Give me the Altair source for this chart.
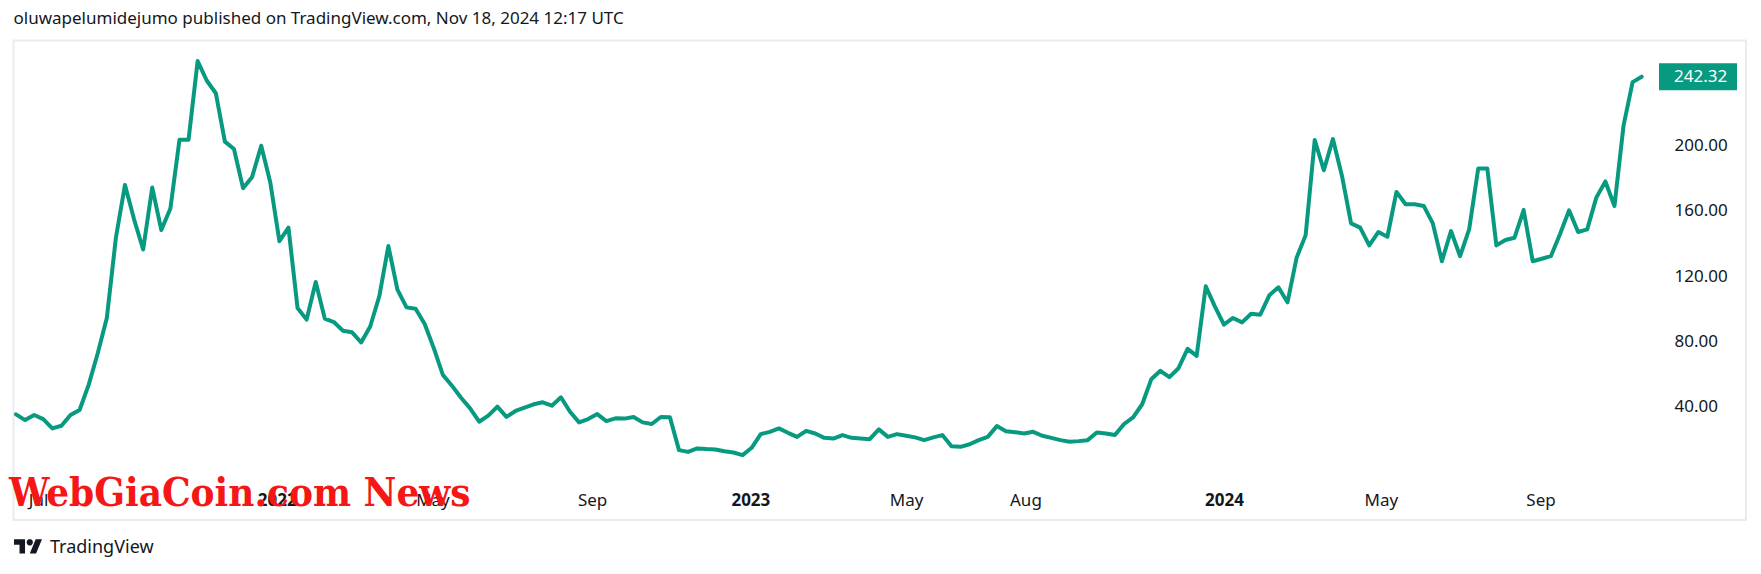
import altair as alt
import pandas as pd

HEADER = ["oluwapelumidejumo published on TradingView.com, Nov 18, 2024 12:17 UTC"]
WATERMARK = ["WebGiaCoin.com News"]
FOOTER = ["TradingView"]
FIRST_WEEK = "2021-06-14"

prices_2021 = [35.3, 31.8, 34.9, 32.4, 26.7, 28.3, 34.9, 38.0, 53.4, 72.8, 94.4, 143.6, 176.0,
               154.9, 136.4, 174.4, 148.3, 161.5, 203.7, 203.7, 251.9, 240.0, 232.2, 202.5,
               198.0, 174.0, 180.9, 200.0, 177.5]
prices_2022 = [141.5, 149.8, 100.5, 93.4, 116.5, 94.0, 91.9, 86.6, 85.6, 79.4, 89.2, 107.7,
               138.5, 111.8, 100.9, 100.1, 90.7, 75.9, 59.5, 52.9, 45.5, 39.0, 30.8, 34.5,
               40.0, 33.8, 37.4, 39.4, 41.5, 42.7, 40.6, 45.8, 36.9, 30.4, 32.4, 35.5, 31.2,
               32.9, 32.7, 33.7, 30.4, 29.4, 33.7, 33.5, 13.4, 12.3, 14.4, 14.0, 13.8, 12.7,
               11.9, 10.3]
prices_2023 = [14.8, 23.2, 24.6, 26.7, 24.0, 21.5, 25.2, 23.6, 20.9, 20.5, 22.6, 20.9, 20.5,
               20.1, 26.1, 21.5, 23.2, 22.2, 21.2, 19.5, 21.2, 22.6, 15.8, 15.4, 17.0, 19.5,
               21.5, 28.1, 25.0, 24.4, 23.6, 24.6, 22.2, 20.9, 19.5, 18.5, 18.9, 19.5, 24.2,
               23.6, 22.6, 29.4, 33.5, 41.5, 56.8, 62.0, 58.1, 63.6, 75.5, 71.2, 113.8, 101.5]
prices_2024 = [90.3, 94.4, 91.7, 97.0, 96.4, 108.3, 113.2, 104.0, 131.3, 145.2, 203.5, 185.0,
               204.1, 181.5, 152.4, 149.8, 138.9, 147.1, 144.2, 171.7, 164.1, 164.1, 163.1,
               152.4, 129.2, 147.7, 132.3, 148.7, 186.1, 186.1, 138.9, 142.2, 143.6, 160.6,
               129.2, 130.7, 132.3, 145.7, 160.4, 147.1, 148.7, 168.2, 178.1, 163.1, 212.3,
               239.0, 242.32]

tick_dates = ["2021-07-01", "2022-01-01", "2022-05-01", "2022-09-01", "2023-01-01",
              "2023-05-01", "2023-08-01", "2024-01-01", "2024-05-01", "2024-09-01"]
price_ticks = [40, 80, 120, 160, 200]

prices = prices_2021 + prices_2022 + prices_2023 + prices_2024
weeks = pd.date_range(FIRST_WEEK, periods=len(prices), freq="7D").strftime("%Y-%m-%d").tolist()
df = pd.DataFrame({"date": weeks, "price": prices})
last = df.tail(1)

def ms(s):
    return int(pd.Timestamp(s, tz="UTC").value // 10**6)

W, H = 1732.5, 479.5
DAY = 86400000
px_per_day = 1625.7 / 1253.0
t0 = ms(FIRST_WEEK)
x_domain = [t0 - 2.5 / px_per_day * DAY, t0 + (W - 2.5) / px_per_day * DAY]
y_domain = [-29.46, 264.53]

TEAL = "#089981"
INK = "#131722"
FONT = "Noto Sans"

x_enc = alt.X(
    "date:T",
    scale=alt.Scale(type="utc", domain=x_domain, nice=False),
    axis=alt.Axis(
        title=None, values=[ms(d) for d in tick_dates], grid=False, domain=False, ticks=False,
        offset=-19.5, labelPadding=0, labelBaseline="middle", labelFlush=False,
        labelOverlap=False, labelFont=FONT, labelFontSize=17, labelColor=INK,
        labelExpr="utcmonth(datum.value) == 0 ? utcFormat(datum.value, '%Y') : utcFormat(datum.value, '%b')",
        labelFontWeight={"condition": {"test": "utcmonth(datum.value) == 0", "value": "bold"},
                         "value": "normal"},
    ),
)
y_enc = alt.Y(
    "price:Q",
    scale=alt.Scale(domain=y_domain, nice=False, zero=False),
    axis=alt.Axis(
        title=None, orient="right", values=price_ticks, format=".2f", grid=False, domain=False,
        ticks=False, offset=-72, labelPadding=0, labelFont=FONT, labelFontSize=17,
        labelColor=INK, labelFlush=False, labelOverlap=False,
    ),
)

line = alt.Chart(df).mark_line(color=TEAL, strokeWidth=4, strokeJoin="round",
                               strokeCap="round", clip=True).encode(x=x_enc, y=y_enc)

tag_box = alt.Chart(last).mark_point(
    shape="M-1,-0.346L1,-0.346L1,0.346L-1,0.346Z", size=6084, filled=True,
    color=TEAL, opacity=1, strokeWidth=0,
).encode(x=alt.value(1684.5), y=alt.Y("price:Q"))

tag_text = alt.Chart(last).mark_text(
    align="left", baseline="middle", font=FONT, fontSize=17, color="white",
).encode(x=alt.value(1660.5), y=alt.Y("price:Q"), text=alt.Text("price:Q", format=".2f"))

header = alt.Chart(pd.DataFrame({"label": HEADER})).mark_text(
    align="left", baseline="alphabetic", font=FONT, fontSize=17, color=INK,
).encode(x=alt.value(0), y=alt.value(-16.9), text="label:N")

wm = alt.Chart(pd.DataFrame({"label": WATERMARK})).mark_text(
    align="left", baseline="alphabetic", font="DejaVu Serif Condensed", fontWeight="bold",
    fontSize=40, color="#f51616",
).encode(x=alt.value(-4.5), y=alt.value(465), text="label:N")

LOGO = ("M-0.2113,0.507L-0.6056,0.507L-0.6056,-0.1127L-1,-0.1127L-1,-0.507L-0.2113,-0.507Z"
        "M0.5775,0.507L0.1268,0.507L0.5493,-0.507L1,-0.507Z"
        "M0.3521,-0.2817A0.2254,0.2254 0 1,1 -0.0986,-0.2817A0.2254,0.2254 0 1,1 0.3521,-0.2817Z")
logo = alt.Chart(pd.DataFrame({"label": FOOTER})).mark_point(
    shape=LOGO, size=784, filled=True, color=INK, opacity=1, strokeWidth=0,
).encode(x=alt.value(14.5), y=alt.value(505.8))

footer = alt.Chart(pd.DataFrame({"label": FOOTER})).mark_text(
    align="left", baseline="alphabetic", font=FONT, fontSize=18, color=INK,
).encode(x=alt.value(36.5), y=alt.value(512.8), text="label:N")

chart = alt.layer(line, tag_box, tag_text, header, wm, logo, footer).properties(
    width=W, height=H,
    padding={"left": 5.5, "top": 32.5, "right": 7, "bottom": 46},
    autosize=alt.AutoSizeParams(type="none"),
    background="white",
).configure_view(stroke="#e9ebf1", strokeWidth=2)

chart.save("out.html", embed_options={"renderer": "svg", "actions": False})
